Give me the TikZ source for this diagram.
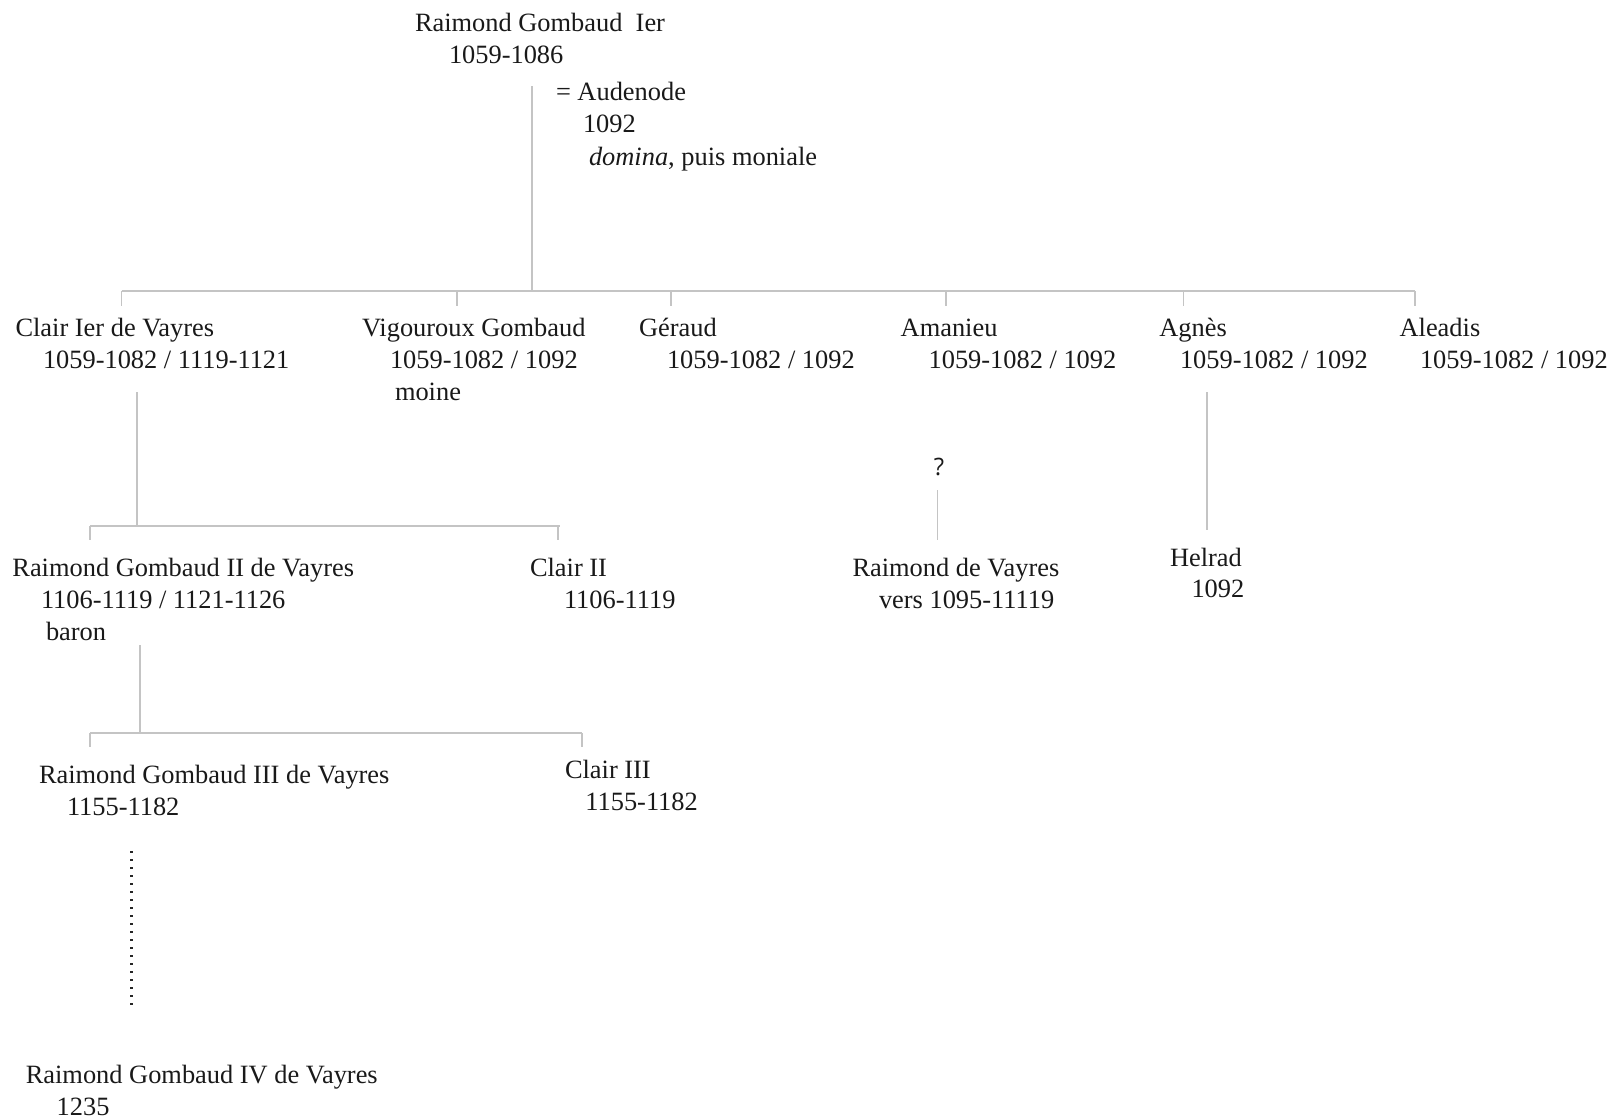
\documentclass[tikz,border=0pt]{standalone}
\usepackage{fontspec}
\setmainfont{Liberation Serif}
\newfontfamily\qfont{Open Sans}
\begin{document}
\begin{tikzpicture}[x=0.75pt,y=-0.75pt,
  txt/.style={anchor=base west,inner sep=0pt,outer sep=0pt,font=\fontsize{19.8}{24}\selectfont,text=black!90},
  link/.style={draw=black!23,line width=0.8pt},
  dotline/.style={draw=black!85,line width=1.7pt,dash pattern=on 1.7pt off 4.3pt}]
\useasboundingbox (0,0) rectangle (1616,1118);
% generation 1
\node[txt] (rg1) at (415,31) {Raimond Gombaud\ \ Ier};
\node[txt] (rg1d) at (449,63) {1059-1086};
\node[txt] (aud) at (556,100) {= Audenode};
\node[txt] (audd) at (583,132) {1092};
\node[txt] (audr) at (589,165) {\textit{domina}, puis moniale};
% generation 2
\node[txt] (clair) at (15.5,336) {Clair Ier de Vayres};
\node[txt] (claird) at (43,368) {1059-1082 / 1119-1121};
\node[txt] (vig) at (362,336) {Vigouroux Gombaud};
\node[txt] (vigd) at (390,368) {1059-1082 / 1092};
\node[txt] (vigm) at (395,400) {moine};
\node[txt] (ger) at (639,336) {Géraud};
\node[txt] (gerd) at (667,368) {1059-1082 / 1092};
\node[txt] (ama) at (900.7,336) {Amanieu};
\node[txt] (amad) at (928.6,368) {1059-1082 / 1092};
\node[txt] (agn) at (1159.4,336) {Agnès};
\node[txt] (agnd) at (1180,368) {1059-1082 / 1092};
\node[txt] (ale) at (1399.6,336) {Aleadis};
\node[txt] (aled) at (1420,368) {1059-1082 / 1092};
% generation 3
\node[txt] (rg2) at (12.4,576) {Raimond Gombaud II de Vayres};
\node[txt] (rg2d) at (41,608) {1106-1119 / 1121-1126};
\node[txt] (rg2b) at (46,640) {baron};
\node[txt] (c2) at (530,576) {Clair II};
\node[txt] (c2d) at (564,608) {1106-1119};
\node[anchor=base,inner sep=0pt,font=\qfont\fontsize{18}{21}\selectfont,text=black!90] (q) at (939,475) {?};
\node[txt] (rdv) at (852.5,576) {Raimond de Vayres};
\node[txt] (rdvd) at (879,608) {vers 1095-11119};
\node[txt] (hel) at (1170,566) {Helrad};
\node[txt] (held) at (1191.5,597) {1092};
% generation 4
\node[txt] (rg3) at (39,783) {Raimond Gombaud III de Vayres};
\node[txt] (rg3d) at (67,815) {1155-1182};
\node[txt] (c3) at (565,778) {Clair III};
\node[txt] (c3d) at (585.4,810) {1155-1182};
% generation 5
\node[txt] (rg4) at (25.8,1083) {Raimond Gombaud IV de Vayres};
\node[txt] (rg4d) at (56.7,1115) {1235};
% coordinates of the tree
\coordinate (p1) at (532,86);
\coordinate (bar1) at (532,291);
\coordinate (bl1) at (121.6,291);
\coordinate (br1) at (1415,291);
\coordinate (p2) at (137,392);
\coordinate (bar2) at (137,526);
\coordinate (bl2) at (90,526);
\coordinate (br2) at (560,526);
\coordinate (p3) at (140,645);
\coordinate (bar3) at (140,733);
\coordinate (bl3) at (90,733);
\coordinate (br3) at (582,733);
\coordinate (d1) at (131.5,851);
\coordinate (d2) at (131.5,1006);
\coordinate (am1) at (937.5,490);
\coordinate (am2) at (937.5,540);
\coordinate (ag1) at (1207,392);
\coordinate (ag2) at (1207,530);
% connectors
\draw[link] (p1) -- (bar1);
\draw[link] (bl1) -- (br1);
\foreach \x in {121.6,457,671,946,1183.5,1415}
  \draw[link] (\x,291) -- (\x,306);
\draw[link] (p2) -- (bar2);
\draw[link] (bl2) -- (br2);
\draw[link] (bl2) -- ++(0,14);
\draw[link] (558,526) -- ++(0,14);
\draw[link] (p3) -- (bar3);
\draw[link] (bl3) -- (br3);
\draw[link] (bl3) -- ++(0,14);
\draw[link] (br3) -- ++(0,14);
\draw[dotline] (d1) -- (d2);
\draw[link] (am1) -- (am2);
\draw[link] (ag1) -- (ag2);
\end{tikzpicture}
\end{document}
